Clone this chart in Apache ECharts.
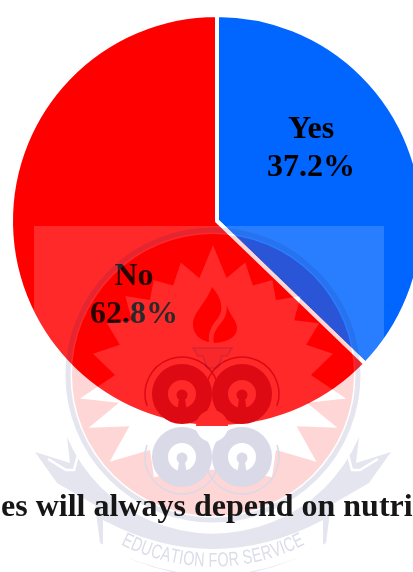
<!DOCTYPE html>
<html><head><meta charset="utf-8">
<style>html,body{margin:0;padding:0;background:#fff}#c{width:413px;height:572px}</style>
<script src="https://cdn.jsdelivr.net/npm/echarts@6/dist/echarts.min.js"></script></head>
<body><div id="c"></div>
<script>
const categories = ['Yes', 'No'];
const percentages = [37.2, 62.8];
const sliceColors = ['#0066ff', '#ff0000'];
const captionText = 'es will always depend on nutri';
const mottoText = 'EDUCATION FOR SERVICE';

const chart = echarts.init(document.getElementById('c'), null, {renderer: 'canvas'});
const SERIF = '"Liberation Serif","Times New Roman",serif';
const labelSpots = {Yes: [311, 149], No: [134, 296]};

// Watermark (crest) geometry
const cx = 213, cy = 375, A = 0.16, NAVY = 'rgba(20,20,110,0.15)', PALE = 'rgba(20,20,110,0.11)';
const DARKRED = '#dd0a14', LAV = '#d9d9e8';
const starTips = [[0,130],[16,117],[32,112],[48,118],[64,118],[80,122],[100,135],[113,135],[130,135],[150,118]];
const valley = 98;
function starPoints() {
  const half = [];
  for (let i = 0; i < starTips.length; i++) {
    half.push(starTips[i]);
    const next = i + 1 < starTips.length ? starTips[i + 1][0] : 180;
    half.push([(starTips[i][0] + next) / 2, valley]);
  }
  const all = half.slice();
  for (let i = half.length - 1; i > 0; i--) all.push([360 - half[i][0], half[i][1]]);
  return all.map(function (p) {
    const t = p[0] * Math.PI / 180;
    return [cx + p[1] * Math.sin(t), cy - p[1] * Math.cos(t)];
  });
}
const pts = starPoints();
const polyPath = function (a) { return 'M' + a.map(function (p) { return p[0].toFixed(1) + ',' + p[1].toFixed(1); }).join('L') + 'Z'; };
const circlePath = function (x, y, r, sweep) {
  return 'M' + (x - r) + ',' + y + 'A' + r + ',' + r + ' 0 1 ' + sweep + ' ' + (x + r) + ',' + y +
         'A' + r + ',' + r + ' 0 1 ' + sweep + ' ' + (x - r) + ',' + y + 'Z';
};
const discR = 141;
const whiteLayer = 'M34,226H384V572H34Z' + circlePath(cx, cy, discR, 0) + polyPath(pts);
const redLayer = circlePath(cx, cy, discR, 1) + polyPath(pts.slice().reverse());

let shapeCount = 0;
function pathEl(d, style) {
  const name = 'crestShape' + (shapeCount++);
  echarts.graphic.registerShape(name, echarts.graphic.extendPath(d, {}));
  return {type: name, z: 100, silent: true, style: style};
}
function ring(x, y, r, lw, color) {
  return {type: 'circle', z: 100, silent: true, shape: {cx: x, cy: y, r: r}, style: {fill: 'none', stroke: color || NAVY, lineWidth: lw}};
}
function disc(x, y, r, color) {
  return {type: 'circle', z: 100, silent: true, shape: {cx: x, cy: y, r: r}, style: {fill: color || NAVY}};
}
function lobe(x, y, color, outline) {
  return [
    ring(x, y, 22, 16, color),
    disc(x, y + 1, 5.5, color),
    pathEl('M' + (x - 2.5) + ',' + (y + 2) + 'L' + (x + 2.5) + ',' + (y + 2) + 'L' + (x + 4.5) + ',' + (y + 15) + 'L' + (x - 4.5) + ',' + (y + 15) + 'Z', {fill: color}),
    pathEl(outline, {fill: 'none', stroke: color, lineWidth: 1.5})
  ];
}
const upperArc = function (x, y) { return 'M' + (x - 35) + ',' + (y + 12) + 'A37,37 0 1 1 ' + (x + 35) + ',' + (y + 12); };
const lowerArc = function (x, y) { return 'M' + (x - 35) + ',' + (y - 12) + 'A37,37 0 1 0 ' + (x + 35) + ',' + (y - 12); };

// Motto letters spaced by their own widths along the ribbon's arc
const mottoFont = '20px "Liberation Sans",sans-serif', mottoScale = 0.72, mottoR = 197;
const meas = document.createElement('canvas').getContext('2d');
meas.font = mottoFont;
const mottoChars = mottoText.split('');
const mottoW = mottoChars.map(function (ch) { return meas.measureText(ch).width * mottoScale; });
const mottoTotal = mottoW.reduce(function (a, b) { return a + b; }, 0);
let mottoPos = -mottoTotal / 2;
const motto = mottoChars.map(function (ch, i) {
  const th = (mottoPos + mottoW[i] / 2) / mottoR;
  mottoPos += mottoW[i];
  return {type: 'text', z: 101, silent: true, x: cx + mottoR * Math.sin(th), y: 364 + mottoR * Math.cos(th), rotation: th, scaleX: mottoScale,
    style: {text: ch, fill: '#dcdcea', font: mottoFont, textAlign: 'center', textVerticalAlign: 'middle'}};
});

const crest = [
  pathEl(whiteLayer, {fill: 'rgba(255,255,255,' + A + ')'}),
  pathEl(redLayer, {fill: 'rgba(255,0,0,' + A + ')'}),
  ring(cx, cy, 145, 5, PALE),
  pathEl('M67,437L70,463L35,452L57,483L95,505L100,543Q213,610 326,543L331,505L369,483L391,452L356,463L359,437A158.6,158.6 0 0 1 67,437Z', {fill: PALE}),
  pathEl('M48,459L66,470L74,470L78,455', {fill: 'none', stroke: '#fff', lineWidth: 2.5}),
  pathEl('M378,459L360,470L352,470L348,455', {fill: 'none', stroke: '#fff', lineWidth: 2.5}),
  pathEl('M103,520Q213,578 323,520L323,546Q213,604 103,546Z', {fill: '#fff'})
]
.concat(lobe(182, 394, DARKRED, upperArc(182, 394)), lobe(242, 394, DARKRED, upperArc(242, 394)))
.concat(lobe(182, 457, LAV, lowerArc(182, 457)), lobe(242, 457, LAV, lowerArc(242, 457)))
.concat([
  pathEl('M196,426A16,16 0 0 1 228,426Z', {fill: '#ff2a2a'}),
  pathEl('M196,426A16,16 0 0 0 228,426Z', {fill: '#ffffff'}),
  pathEl('M212,287C205,305 193,312 193,325C193,335 202,341 209,342C208,332 212,325 218,318C224,310 222,298 212,287Z', {fill: '#ff0000'}),
  pathEl('M226,303C229,315 237,320 237,328C237,337 228,342 214,343C212,335 216,329 221,323C226,317 228,310 226,303Z', {fill: '#ff0000'}),
  pathEl('M193,348H232L227,356H222L218,368H207L203,356H198Z', {fill: 'rgba(20,20,110,0.03)', stroke: NAVY, lineWidth: 1.5})
])
.concat(motto);

const caption = {type: 'text', z: 110, silent: true, x: 1, y: 508,
  style: {text: captionText, fill: '#161616', font: 'bold 32px ' + SERIF, textAlign: 'left', textVerticalAlign: 'middle'}};

chart.setOption({
  animation: false,
  backgroundColor: '#fff',
  series: [{
    type: 'pie',
    center: [217, 221],
    radius: [0, 206],
    startAngle: 90,
    clockwise: true,
    silent: true,
    data: categories.map(function (n, i) { return {name: n, value: percentages[i], itemStyle: {color: sliceColors[i]}}; }),
    itemStyle: {borderColor: '#fff', borderWidth: 4},
    label: {show: true, position: 'inside', formatter: '{b}\n{c}%', color: '#000', fontFamily: SERIF, fontWeight: 'bold', fontSize: 32, lineHeight: 38},
    labelLine: {show: false},
    labelLayout: function (p) {
      const s = labelSpots[categories[p.dataIndex]];
      return {x: s[0], y: s[1], align: 'center', verticalAlign: 'middle'};
    }
  }],
  graphic: {elements: crest.concat([caption])}
});
</script></body></html>
